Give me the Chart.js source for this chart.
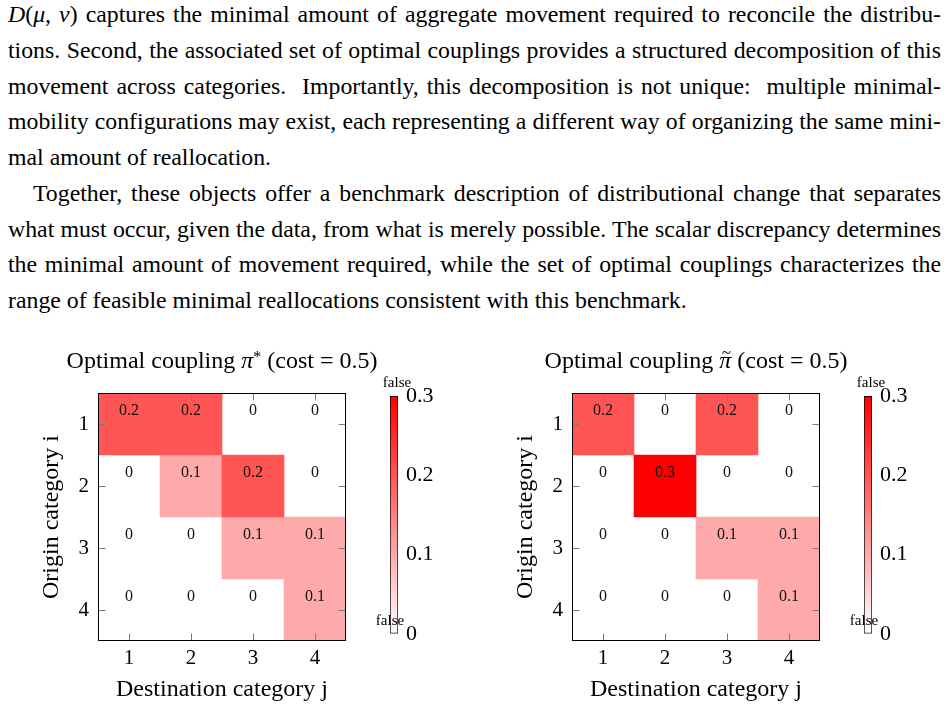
<!DOCTYPE html>
<html>
<head>
<meta charset="utf-8">
<script src="https://cdn.jsdelivr.net/npm/chart.js@4.4.1/dist/chart.umd.min.js"></script>
<style>
  html, body { margin: 0; padding: 0; background: #fff; }
  body { width: 949px; height: 709px; position: relative; overflow: hidden;
         font-family: 'Liberation Serif', 'Times New Roman', serif; color: #000; }
  #text { position: absolute; left: 8px; top: -3px; width: 933px; font-size: 23.8px; line-height: 35.75px; }
  .ln { white-space: nowrap; }
  .j { text-align: justify; text-align-last: justify; }
  .ind { padding-left: 25px; }
  canvas { position: absolute; }
</style>
</head>
<body>
<div id="text">
  <div class="ln j"><i>D</i>(<i>μ</i>, <i>ν</i>) captures the minimal amount of aggregate movement required to reconcile the distribu-</div>
  <div class="ln j">tions. Second, the associated set of optimal couplings provides a structured decomposition of this</div>
  <div class="ln j">movement across categories. &nbsp;Importantly, this decomposition is not unique: &nbsp;multiple minimal-</div>
  <div class="ln j">mobility configurations may exist, each representing a different way of organizing the same mini-</div>
  <div class="ln">mal amount of reallocation.</div>
  <div class="ln j ind">Together, these objects offer a benchmark description of distributional change that separates</div>
  <div class="ln j">what must occur, given the data, from what is merely possible. The scalar discrepancy determines</div>
  <div class="ln j">the minimal amount of movement required, while the set of optimal couplings characterizes the</div>
  <div class="ln">range of feasible minimal reallocations consistent with this benchmark.</div>
</div>

<canvas id="hmA" width="384" height="369" style="left:30px;top:340px"></canvas>
<canvas id="cbA" width="86" height="290" style="left:370px;top:365px"></canvas>
<canvas id="hmB" width="384" height="369" style="left:504px;top:340px"></canvas>
<canvas id="cbB" width="86" height="290" style="left:844px;top:365px"></canvas>

<script>
// categories (same for origin i and destination j)
const categories = ['1', '2', '3', '4'];
// rows = origin category i, columns = destination category j
const couplingStar = [
  [0.2, 0.2, 0, 0],
  [0, 0.1, 0.2, 0],
  [0, 0, 0.1, 0.1],
  [0, 0, 0, 0.1]
];
const couplingTilde = [
  [0.2, 0, 0.2, 0],
  [0, 0.3, 0, 0],
  [0, 0, 0.1, 0.1],
  [0, 0, 0, 0.1]
];
const colorbarTicks = [0, 0.1, 0.2, 0.3];
const vmax = 0.3;

const SERIF = "'Liberation Serif', 'Times New Roman', serif";
Chart.defaults.font.family = SERIF;
Chart.defaults.color = '#000';

function fmt(v) {
  return v === 0 ? '0' : v.toFixed(1);
}

// white -> red colormap
function heat(v) {
  if (v === 0) return 'rgba(255,255,255,0)';
  const g = Math.round(255 * (1 - v / vmax));
  return `rgb(255,${g},${g})`;
}

const cellLabels = {
  id: 'cellLabels',
  afterDatasetsDraw(chart) {
    const ctx = chart.ctx;
    ctx.save();
    ctx.font = `16px ${SERIF}`;
    ctx.fillStyle = '#111';
    ctx.textAlign = 'center';
    ctx.textBaseline = 'middle';
    chart.data.datasets.forEach((ds, i) => {
      chart.getDatasetMeta(i).data.forEach((bar, j) => {
        const { x, y, base } = bar.getProps(['x', 'y', 'base'], true);
        ctx.fillText(fmt(ds.values[j]), x, (y + base) / 2 - 13);
      });
    });
    ctx.restore();
  }
};

// pgfplots-like frame with inner tick marks on all four sides
const frame = {
  id: 'frame',
  afterDatasetsDraw(chart) {
    const { ctx, chartArea: a, scales: { x, y } } = chart;
    const L = Math.round(a.left) + 0.5, R = Math.round(a.right) - 0.5;
    const T = Math.round(a.top) + 0.5, B = Math.round(a.bottom) - 0.5;
    ctx.save();
    ctx.lineWidth = 1;
    ctx.strokeStyle = '#7a7a7a';
    ctx.beginPath();
    x.ticks.forEach((t, k) => {
      const px = Math.round(x.getPixelForTick(k)) + 0.5;
      ctx.moveTo(px, T); ctx.lineTo(px, T + 7);
      ctx.moveTo(px, B); ctx.lineTo(px, B - 7);
    });
    y.ticks.forEach((t) => {
      const py = Math.round(y.getPixelForValue(t.value)) + 0.5;
      ctx.moveTo(L, py); ctx.lineTo(L + 7, py);
      ctx.moveTo(R, py); ctx.lineTo(R - 7, py);
    });
    ctx.stroke();
    ctx.strokeStyle = '#000';
    ctx.strokeRect(L, T, R - L, B - T);
    ctx.restore();
  }
};

// title with math parts (italic pi, superscript star, tilde accent), centred on the plot area
const mathTitle = {
  id: 'mathTitle',
  afterDraw(chart, args, opts) {
    const { ctx, chartArea: a } = chart;
    const parts = opts.parts || [];
    const fontOf = (p) => `${p.it ? 'italic ' : ''}${p.sup ? 16 : 24}px ${SERIF}`;
    ctx.save();
    ctx.fillStyle = '#000';
    ctx.textBaseline = 'alphabetic';
    ctx.textAlign = 'left';
    let total = 0;
    const widths = parts.map((p) => { ctx.font = fontOf(p); const w = ctx.measureText(p.t).width; total += w; return w; });
    let x = (a.left + a.right) / 2 - total / 2;
    const base = a.top - 25;
    parts.forEach((p, k) => {
      ctx.font = fontOf(p);
      ctx.fillText(p.t, x, base - (p.sup ? 6 : 0));
      if (p.tilde) {
        ctx.font = `17px ${SERIF}`;
        ctx.textAlign = 'center';
        ctx.fillText('~', x + widths[k] / 2 + 1, base - 10);
        ctx.textAlign = 'left';
      }
      x += widths[k];
    });
    ctx.restore();
  }
};

function heatmap(id, titleParts, matrix) {
  return new Chart(document.getElementById(id), {
    type: 'bar',
    data: {
      labels: categories,
      datasets: matrix.map((row, i) => ({
        label: 'Origin ' + categories[i],
        data: row.map(() => [i + 0.5, i + 1.5]),
        values: row,
        backgroundColor: row.map(heat),
        borderWidth: 0,
        grouped: false,
        barPercentage: 1,
        categoryPercentage: 1
      }))
    },
    options: {
      responsive: false,
      animation: false,
      layout: { padding: { top: 53, right: 68 } },
      plugins: {
        legend: { display: false },
        tooltip: { enabled: false },
        title: { display: false },
        mathTitle: { parts: titleParts }
      },
      scales: {
        x: {
          type: 'category',
          offset: true,
          grid: { display: false, drawTicks: false },
          border: { display: false },
          ticks: { font: { size: 21 }, padding: 5, color: '#000' },
          title: { display: true, text: 'Destination category j', font: { size: 24 }, padding: { top: 0, bottom: 5 }, color: '#000' },
          afterFit: (s) => { s.height = 68; }
        },
        y: {
          type: 'linear',
          min: 0.5,
          max: 4.5,
          reverse: true,
          afterBuildTicks: (s) => { s.ticks = categories.map((c) => ({ value: Number(c) })); },
          grid: { display: false, drawTicks: false },
          border: { display: false },
          ticks: { font: { size: 21 }, padding: 9, color: '#000', callback: (v) => String(v) },
          title: { display: true, text: 'Origin category i', font: { size: 24 }, padding: { top: 7, bottom: 0 }, color: '#000' },
          afterFit: (s) => { s.width = 68; }
        }
      }
    },
    plugins: [cellLabels, frame, mathTitle]
  });
}

// the stray "false" labels of the original colorbar
const falseLabels = {
  id: 'falseLabels',
  afterDraw(chart) {
    const { ctx, chartArea: a } = chart;
    ctx.save();
    ctx.font = `15px ${SERIF}`;
    ctx.fillStyle = '#000';
    ctx.textAlign = 'center';
    ctx.textBaseline = 'middle';
    ctx.fillText('false', a.right - 1, a.top - 13);
    ctx.fillText('false', a.left, a.bottom - 13);
    ctx.restore();
  }
};

function colorbar(id) {
  return new Chart(document.getElementById(id), {
    type: 'bar',
    data: {
      labels: [''],
      datasets: [{
        data: [[0, vmax]],
        backgroundColor: (c) => {
          const chart = c.chart;
          if (!chart.chartArea) return '#f88';
          const y = chart.scales.y;
          const g = chart.ctx.createLinearGradient(0, y.getPixelForValue(0), 0, y.getPixelForValue(vmax));
          g.addColorStop(0, '#ffffff');
          g.addColorStop(1, '#ff0000');
          return g;
        },
        borderColor: '#000',
        borderWidth: 1,
        borderSkipped: false,
        barPercentage: 1,
        categoryPercentage: 1
      }]
    },
    options: {
      responsive: false,
      animation: false,
      layout: { padding: { left: 20, top: 31, bottom: 16 } },
      plugins: { legend: { display: false }, tooltip: { enabled: false } },
      scales: {
        x: { display: false },
        y: {
          position: 'right',
          min: 0,
          max: vmax,
          z: 1,
          afterBuildTicks: (s) => { s.ticks = colorbarTicks.map((v) => ({ value: v })); },
          grid: {
            drawTicks: false,
            color: (c) => (c.tick && c.tick.value > 0.01 && c.tick.value < vmax - 0.01) ? '#7a7a7a' : 'rgba(0,0,0,0)'
          },
          border: { display: false },
          ticks: { font: { size: 22 }, padding: 8, color: '#000', callback: (v) => fmt(v) },
          afterFit: (s) => { s.width = 58; }
        }
      }
    },
    plugins: [falseLabels]
  });
}

heatmap('hmA', [
  { t: 'Optimal coupling ' }, { t: 'π', it: true }, { t: '*', sup: true }, { t: ' (cost = 0.5)' }
], couplingStar);
colorbar('cbA');
heatmap('hmB', [
  { t: 'Optimal coupling ' }, { t: 'π', it: true, tilde: true }, { t: ' (cost = 0.5)' }
], couplingTilde);
colorbar('cbB');
</script>
</body>
</html>
